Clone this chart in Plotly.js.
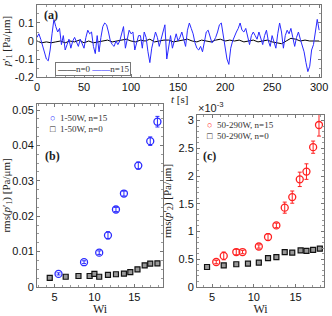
<!DOCTYPE html>
<html><head><meta charset="utf-8">
<script src="https://cdn.plot.ly/plotly-3.0.1.min.js"></script>
<style>html,body{margin:0;padding:0;background:#fff}#c{width:332px;height:316px}</style>
</head><body><div id="c"></div>
<script>
// Panel (a): time series p'_1 [Pa/um], blue n=15 every 2 s, black n=0 every 5 s
const tBlue = [];
for (let i = 0; i <= 150; i++) tBlue.push(i * 2);
const pBlue = [0.02,0.04,0.01,-0.03,-0.06,-0.10,-0.11,-0.05,0.04,0.12,
  0.08,0.05,0.07,-0.02,0.03,-0.05,-0.02,0.01,-0.04,0.00,
  0.02,-0.01,-0.03,0.01,-0.02,-0.04,0.02,0.06,0.04,0.05,
  -0.03,-0.07,0.03,-0.06,0.02,0.08,0.10,0.09,0.05,0.00,
  -0.02,-0.03,0.00,-0.02,0.00,0.05,0.08,-0.04,0.02,0.06,
  0.04,0.05,-0.05,0.00,0.03,0.03,-0.04,0.05,0.02,-0.06,
  -0.12,-0.04,0.00,0.05,0.02,-0.03,0.01,0.06,0.09,-0.10,
  -0.02,0.03,-0.04,0.00,0.04,0.00,0.02,0.05,0.01,-0.03,
  0.06,0.10,0.07,0.04,-0.01,-0.04,-0.05,-0.03,-0.06,0.00,
  0.05,0.06,0.03,-0.01,0.00,0.02,0.05,0.09,0.10,0.03,
  -0.02,-0.10,-0.13,-0.04,0.00,0.03,0.05,0.07,0.10,0.06,
  0.05,0.07,0.02,-0.02,0.03,0.05,0.03,0.01,0.05,0.02,
  -0.02,0.03,0.06,0.00,-0.03,0.03,-0.01,-0.04,0.04,0.10,
  0.05,-0.04,0.03,0.06,0.04,0.07,0.02,-0.03,0.02,0.05,
  0.01,-0.03,-0.06,-0.12,-0.17,-0.14,-0.05,-0.02,0.06,0.12,0.06];
const tBlack = [];
for (let i = 0; i <= 60; i++) tBlack.push(i * 5);
const pBlack = [0.00,-0.01,-0.005,-0.01,-0.005,0.00,-0.01,0.00,-0.005,0.005,
  -0.01,0.00,-0.01,-0.005,0.00,0.005,-0.005,0.00,0.005,0.01,
  0.00,-0.005,0.005,0.00,0.01,-0.005,0.00,0.005,0.005,-0.005,
  0.00,0.005,0.01,0.00,-0.005,0.005,0.00,-0.005,0.005,0.01,
  0.00,0.005,0.00,0.005,-0.005,0.00,0.005,-0.005,0.00,0.005,
  -0.005,-0.01,-0.015,0.00,0.015,0.01,0.00,0.005,0.00,0.00,0.00];

// Panel (b): rms(p'_1)
const wiB15 = [5.5,8.7,10.6,11.7,12.7,13.7,15.5,17.0,17.9];
const rmsB15 = [0.0037,0.0070,0.0097,0.0146,0.0219,0.0264,0.0343,0.0412,0.0467];
const errB15 = [0.0003,0.0004,0.0005,0.0010,0.0006,0.0007,0.0010,0.0012,0.0015];
const wiB0 = [4.4,6.4,8.0,9.4,10.0,10.6,11.7,12.7,13.7,14.5,15.4,16.3,17.0,17.9];
const rmsB0 = [0.0026,0.0029,0.0031,0.0031,0.0037,0.0029,0.0034,0.0036,0.0038,0.0042,0.0050,0.0061,0.0066,0.0067];

// Panel (c): rms(p'_2) in units of 1e-3 Pa/um
const wiC15 = [5.5,6.4,7.9,8.65,10.6,11.7,12.7,13.7,14.6,15.5,16.3,17.1,17.8];
const rmsC15 = [0.45,0.56,0.63,0.63,0.73,0.90,1.11,1.43,1.62,1.94,2.08,2.52,2.92];
const errC15 = [0.03,0.07,0.05,0.03,0.03,0.06,0.04,0.10,0.11,0.13,0.14,0.11,0.20];
const wiC0 = [4.4,6.4,7.9,9.3,10.6,11.7,12.7,13.7,14.6,15.6,16.3,17.1,17.9];
const rmsC0 = [0.36,0.39,0.41,0.42,0.44,0.52,0.54,0.63,0.62,0.66,0.65,0.67,0.69];

const legA = ['n=0', 'n=15'];
const legB = ['1-50W, n=15', '1-50W, n=0'];
const legC = ['50-290W, n=15', '50-290W, n=0'];

const serif = 'Liberation Serif, DejaVu Serif, serif';
const sans = 'Liberation Sans, Arial, sans-serif';
const blue = '#2a2aff';
const red = '#ff2020';

const traces = [
  {x: tBlack, y: pBlack, mode: 'lines', name: legA[0], line: {color: '#000', width: 1}, xaxis: 'x', yaxis: 'y'},
  {x: tBlue, y: pBlue, mode: 'lines', name: legA[1], line: {color: blue, width: 1}, xaxis: 'x', yaxis: 'y'},
  {x: wiB15, y: rmsB15, mode: 'markers', name: legB[0], error_y: {type: 'data', array: errB15, color: blue, thickness: 1, width: 2},
   marker: {symbol: 'circle-open', size: 7, color: blue, line: {width: 1.3}}, xaxis: 'x2', yaxis: 'y2'},
  {x: wiB0, y: rmsB0, mode: 'markers', name: legB[1],
   marker: {symbol: 'square', size: 5, color: '#999', line: {width: 1.2, color: '#111'}}, xaxis: 'x2', yaxis: 'y2'},
  {x: wiC15, y: rmsC15, mode: 'markers', name: legC[0], error_y: {type: 'data', array: errC15, color: red, thickness: 1, width: 2},
   marker: {symbol: 'circle-open', size: 7, color: red, line: {width: 1.3}}, xaxis: 'x3', yaxis: 'y3'},
  {x: wiC0, y: rmsC0, mode: 'markers', name: legC[1],
   marker: {symbol: 'square', size: 5, color: '#999', line: {width: 1.2, color: '#111'}}, xaxis: 'x3', yaxis: 'y3'}
];

const axBase = {
  showline: true, mirror: 'allticks', linecolor: '#777', linewidth: 1,
  ticks: 'inside', ticklen: 3, tickcolor: '#777', showgrid: false, zeroline: false,
  tickfont: {family: sans, size: 11, color: '#111'}, automargin: false
};
function ax(extra) { return Object.assign({}, JSON.parse(JSON.stringify(axBase)), extra); }
function mn(d) { return {ticks: 'inside', ticklen: 2, tickcolor: '#999', dtick: d, showgrid: false}; }

const legFont = {family: serif, size: 9, color: '#333'};
const layout = {
  width: 332, height: 316,
  margin: {l: 0, r: 0, t: 0, b: 0},
  paper_bgcolor: '#fff', plot_bgcolor: '#fff',
  showlegend: false,
  xaxis: ax({domain: [0.1114, 0.9669], anchor: 'y', range: [0, 302], tickvals: [0,50,100,150,200,250,300],
    minor: mn(10)}),
  yaxis: ax({domain: [0.7563, 0.9842], anchor: 'x', range: [-0.2, 0.2], tickvals: [-0.2,-0.1,0,0.1,0.2],
    ticktext: ['-0.2','-0.1','0','0.1','0.2'], minor: mn(0.05),
    title: {text: "<i>p</i>′<sub>1</sub> [Pa/μm]", font: {family: serif, size: 11, color: '#222'}, standoff: 4}}),
  xaxis2: ax({domain: [0.1114, 0.491], anchor: 'y2', range: [2.8, 18.6], tickvals: [5,10,15], minor: mn(1),
    title: {text: 'Wi', font: {family: serif, size: 12, color: '#222'}, standoff: 1}}),
  yaxis2: ax({domain: [0.0918, 0.6709], anchor: 'x2', range: [0, 0.0517], tickvals: [0,0.01,0.02,0.03,0.04,0.05],
    ticktext: ['0','0.01','0.02','0.03','0.04','0.05'], minor: mn(0.0025),
    title: {text: "rms(<i>p</i>′<sub>1</sub>) [Pa/μm]", font: {family: serif, size: 11, color: '#222'}, standoff: 4}}),
  xaxis3: ax({domain: [0.5934, 0.9759], anchor: 'y3', range: [3.2, 18.4], tickvals: [5,10,15], minor: mn(1),
    title: {text: 'Wi', font: {family: serif, size: 12, color: '#222'}, standoff: 1}}),
  yaxis3: ax({domain: [0.0918, 0.6361], anchor: 'x3', range: [0, 3.1], tickvals: [0,0.5,1,1.5,2,2.5,3],
    ticktext: ['0','0.5','1','1.5','2','2.5','3'], minor: mn(0.1),
    title: {text: "rms(<i>p</i>′<sub>2</sub>) [Pa/μm]", font: {family: serif, size: 11, color: '#222'}, standoff: 4}}),
  annotations: [
    {text: '<i>t</i> [s]', xref: 'paper', yref: 'paper', x: 0.54, y: 1 - 99/316, xanchor: 'center', yanchor: 'middle', showarrow: false, font: {family: serif, size: 11, color: '#222'}},
    {text: '<b>(a)</b>', xref: 'paper', yref: 'paper', x: 0.125, y: 0.98, xanchor: 'left', yanchor: 'top', showarrow: false, font: {family: serif, size: 12, color: '#222'}},
    {text: '<b>(b)</b>', xref: 'paper', yref: 'paper', x: 0.13, y: 0.535, xanchor: 'left', yanchor: 'top', showarrow: false, font: {family: serif, size: 12, color: '#222'}},
    {text: '<b>(c)</b>', xref: 'paper', yref: 'paper', x: 0.605, y: 0.535, xanchor: 'left', yanchor: 'top', showarrow: false, font: {family: serif, size: 12, color: '#222'}},
    {text: '×10<sup>-3</sup>', xref: 'paper', yref: 'paper', x: 0.59, y: 0.66, xanchor: 'left', yanchor: 'middle', showarrow: false, font: {family: sans, size: 11, color: '#222'}},
    // legend (a)
    {text: '<span style="color:#000">——</span>' + legA[0] + ' <span style="color:' + blue + '">——</span>' + legA[1],
     xref: 'paper', yref: 'paper', x: 0.166, y: 0.805, xanchor: 'left', yanchor: 'top', showarrow: false,
     bordercolor: '#777', borderwidth: 1, borderpad: 1, bgcolor: '#fff', font: legFont},
    // legend (b)
    {text: '<span style="color:' + blue + '">○</span>  ' + legB[0], xref: 'paper', yref: 'paper', x: 0.145, y: 1 - 118/316,
     xanchor: 'left', yanchor: 'middle', showarrow: false, font: legFont},
    {text: '<span style="color:#111">□</span>  ' + legB[1], xref: 'paper', yref: 'paper', x: 0.145, y: 1 - 129/316,
     xanchor: 'left', yanchor: 'middle', showarrow: false, font: legFont},
    // legend (c)
    {text: '<span style="color:' + red + '">○</span>  ' + legC[0], xref: 'paper', yref: 'paper', x: 0.617, y: 1 - 125/316,
     xanchor: 'left', yanchor: 'middle', showarrow: false, font: legFont},
    {text: '<span style="color:#111">□</span>  ' + legC[1], xref: 'paper', yref: 'paper', x: 0.617, y: 1 - 136/316,
     xanchor: 'left', yanchor: 'middle', showarrow: false, font: legFont}
  ]
};

Plotly.newPlot('c', traces, layout, {staticPlot: true, displayModeBar: false});
</script></body></html>
